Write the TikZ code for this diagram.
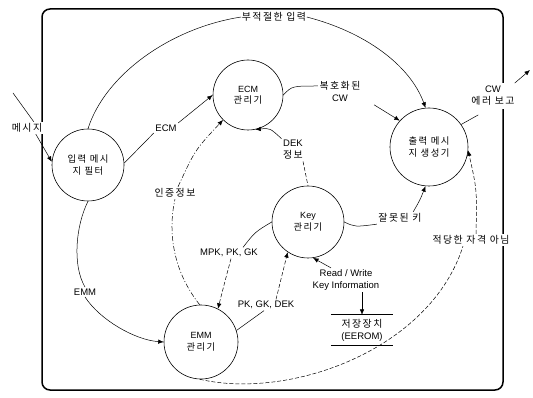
\documentclass[tikz,border=0pt]{standalone}
\usepackage{fontspec}
\setmainfont{Liberation Sans}
\newfontfamily\kr[LetterSpace=15,Scale=1.04]{Noto Sans CJK KR}
\usetikzlibrary{arrows.meta}
\begin{document}
\begin{tikzpicture}[x=1pt,y=-1pt,
  proc/.style={circle,draw,line width=0.6pt,minimum size=72pt,inner sep=0pt,align=center,font=\fontsize{9}{11.5}\selectfont},
  lbl/.style={inner sep=1.5pt,align=center,font=\fontsize{9.5}{12}\selectfont},
  wlbl/.style={lbl,fill=white},
  flow/.style={line width=0.5pt},
  arr/.style={flow,-{Latex[length=5.5pt,width=4.5pt]}},
  dsh/.style={dash pattern=on 4pt off 2pt},
  dshdot/.style={dash pattern=on 5pt off 2pt on 1pt off 2pt}
]
\useasboundingbox (0,0) rectangle (533,398);
% frame
\draw[line width=1.5pt,rounded corners=8pt] (42,9) rectangle (503,390);

% processes
\node[proc] (inp) at (88,165) {{\kr 입력 메시}\\{\kr 지 필터}};
\node[proc,minimum size=70pt] (ecm) at (248,95) {ECM\\{\kr 관리기}};
\node[proc,minimum size=78pt] (out) at (429,147) {{\kr 출력 메시}\\{\kr 지 생성기}};
\node[proc] (key) at (308,222) {Key\\{\kr 관리기}};
\node[proc,minimum size=74pt] (emm) at (201,342) {EMM\\{\kr 관리기}};

% store
\node[lbl,minimum width=62pt,minimum height=30pt] (store) at (362,330) {{\kr 저장장치}\\(EEROM)};
\draw[line width=0.7pt] (store.north west) -- (store.north east);
\draw[line width=0.7pt] (store.south west) -- (store.south east);

% labels
\coordinate (msgsrc) at (13,93);
\coordinate (cwdst) at (530,70);
\node[wlbl] (lmsg) at (27,128) {\kr 메시지};
\node[lbl] (lecm) at (166,128) {ECM};
\node[lbl] (lemm) at (85,292) {EMM};
\node[lbl,inner sep=0.5pt] (lbad) at (274,17) {\kr 부적절한 입력};
\node[lbl] (ldcw) at (340,91) {{\kr 복호화된}\\CW};
\node[lbl] (ldek) at (293,150) {DEK\\{\kr 정보}};
\node[lbl] (lauth) at (175,193) {\kr 인증정보};
\node[lbl] (lmpk) at (229,253) {MPK, PK, GK};
\node[lbl] (lpgd) at (266,305) {PK, GK, DEK};
\node[lbl] (lwrong) at (400,218) {\kr 잘못된 키};
\node[lbl] (lrw) at (346,280) {Read / Write\\Key Information};
\node[wlbl] (lnq) at (471,240) {\kr 적당한 자격 아님};
\node[wlbl,inner sep=3pt] (lcw) at (493,96) {CW\\{\kr 에러 보고}};

% flows
\draw[flow] (msgsrc) -- ([xshift=-10pt]lmsg.north east);
\draw[arr] ([xshift=-8pt]lmsg.south east) -- (inp.175);

\draw[flow] (inp.3) -- (lecm.south west);
\draw[arr] (lecm.north east) -- (ecm.west);

\draw[flow] (inp.south) .. controls (76,225) and (72,265) .. (lemm.north);
\draw[arr] (lemm.south) .. controls (100,320) and (135,340) .. (emm.west);

\draw[flow] (inp.north) .. controls (105,75) and (170,28) .. (lbad.west);
\draw[arr] (lbad.east) .. controls (365,32) and (410,65) .. (out.95);

\draw[flow] (ecm.east) .. controls (292,86) .. ([yshift=5pt]ldcw.west);
\draw[arr] ([xshift=12pt,yshift=-2pt]ldcw.south east) -- (out.138);

\draw[flow,dsh] ([xshift=10pt]ldek.south) -- (key.north);
\draw[arr] (ldek.north west) .. controls (270,128) .. (ecm.282);

\draw[flow,dshdot] (emm.92) .. controls (172,270) and (168,230) .. (lauth.south);
\draw[arr,dshdot] ([xshift=3pt]lauth.north) .. controls (195,150) .. (ecm.225);

\draw[flow] (key.180) .. controls (255,232) .. ([xshift=14pt]lmpk.north);
\draw[arr,dsh] ([xshift=2pt]lmpk.south) .. controls (224,285) .. (emm.63);

\draw[flow] (emm.18) -- ([xshift=28pt]lpgd.south west);
\draw[arr,dsh] ([xshift=10pt]lpgd.north) -- (key.236);

\draw[arr] ([xshift=-15pt]lrw.north) -- (key.278);
\draw[arr] (lrw.south -| store.north) -- (store.north);

\draw[flow] (key.east) .. controls (355,227) .. (lwrong.south west);
\draw[arr] ([xshift=-10pt]lwrong.north east) .. controls (420,200) .. (out.265);

\draw[flow,dsh] (emm.268) .. controls (290,400) and (430,350) .. ([xshift=-8pt]lnq.south);
\draw[arr,dsh] ([xshift=5pt]lnq.north) .. controls (477,190) .. (out.355);

\draw[flow] (out.35) -- ([xshift=10pt,yshift=-6pt]lcw.south west);
\draw[arr] ([xshift=-3pt]lcw.north east) -- (cwdst);
\end{tikzpicture}
\end{document}
